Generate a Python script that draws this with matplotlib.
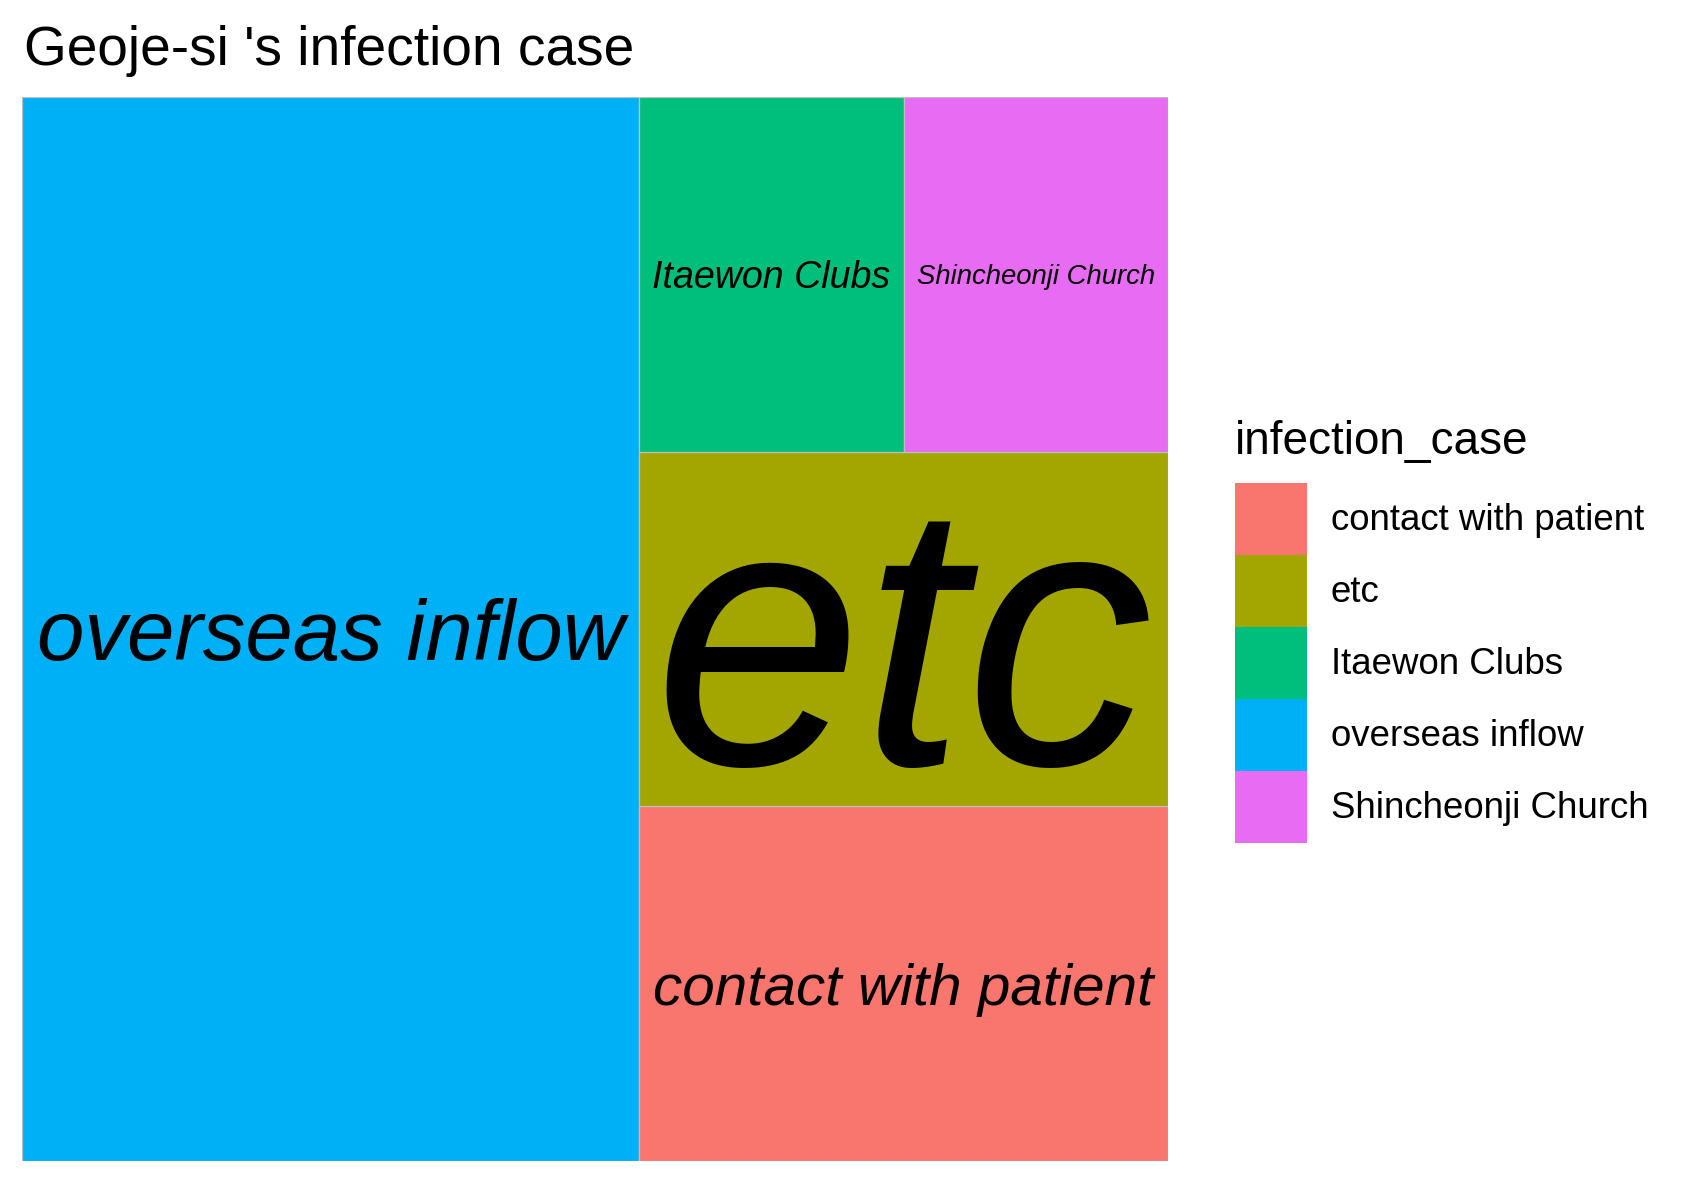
import matplotlib
matplotlib.use("Agg")
import matplotlib.pyplot as plt
from matplotlib.patches import Rectangle, Patch

plt.rcParams['font.family'] = ['Liberation Sans', 'DejaVu Sans']

# Geoje-si infection cases (number of patients per case)
categories = ['contact with patient', 'etc', 'Itaewon Clubs', 'overseas inflow', 'Shincheonji Church']
counts = [2, 2, 1, 7, 1]
colors = ['#F8766D', '#A3A500', '#00BF7D', '#00B0F6', '#E76BF3']


def worst(row, side):
    s = sum(row)
    return max(max(side * side * r / (s * s), (s * s) / (side * side * r)) for r in row)


def squarify(areas, x, y, w, h):
    # squarified treemap layout, rows start at bottom-left
    rects = []
    i = 0
    while i < len(areas):
        side = min(w, h)
        row = [areas[i]]
        j = i + 1
        while j < len(areas) and worst(row + [areas[j]], side) <= worst(row, side):
            row.append(areas[j])
            j += 1
        s = sum(row)
        if w >= h:
            cw = s / h
            yy = y
            for a in row:
                rects.append((x, yy, cw, a / cw))
                yy += a / cw
            x += cw
            w -= cw
        else:
            rh = s / w
            xx = x
            for a in row:
                rects.append((xx, y, a / rh, rh))
                xx += a / rh
            y += rh
            h -= rh
        i = j
    return rects


DPI = 300
fig = plt.figure(figsize=(1699 / DPI, 1184 / DPI), dpi=DPI)
# panel in pixels
px0, px1, py0, py1 = 22, 1168, 97, 1161
ax = fig.add_axes([px0 / 1699, 1 - py1 / 1184, (px1 - px0) / 1699, (py1 - py0) / 1184])
W, H = px1 - px0, py1 - py0
ax.set_xlim(0, W)
ax.set_ylim(0, H)
ax.axis('off')

order = sorted(range(len(counts)), key=lambda i: -counts[i])
total = sum(counts)
areas = [counts[i] * W * H / total for i in order]
rects = squarify(areas, 0, 0, W, H)

renderer = fig.canvas.get_renderer()
pad = DPI / 25.4  # 1 mm
for k, (x, y, w, h) in zip(order, rects):
    ax.add_patch(Rectangle((x, y), w, h, facecolor=colors[k], edgecolor='#BEBEBE', linewidth=0.3))
    t = ax.text(x + w / 2, y + h / 2, categories[k], ha='center', va='baseline',
                fontstyle='italic', fontsize=10, color='black')
    bb = t.get_window_extent(renderer)
    size = 10 * 0.99 * min((w - 2 * pad) / bb.width, (h - 2 * pad) / (0.8 * bb.height))
    t.set_fontsize(size)
    # centre on the cap height, like the grown labels in the reference
    t.set_y(y + h / 2 - 0.36 * size * DPI / 72)

fig.text(24 / 1699, 1 - 65 / 1184, "Geoje-si 's infection case", fontsize=13.2,
         ha='left', va='baseline')

handles = [Patch(facecolor=c, edgecolor='none') for c in colors]
key = 72 / DPI * 72 / 8.8
leg = fig.legend(handles, categories, loc='upper left',
                 bbox_to_anchor=(1235 / 1699, 1 - 420 / 1184),
                 frameon=False, title='infection_case', title_fontsize=11,
                 fontsize=8.8, alignment='left',
                 handlelength=key, handleheight=(key - 0.245) / 0.65,
                 labelspacing=0, handletextpad=24 / 36.7,
                 borderpad=0, borderaxespad=0)
leg._legend_box.sep = 4.5

fig.savefig('out.png', dpi=DPI)
